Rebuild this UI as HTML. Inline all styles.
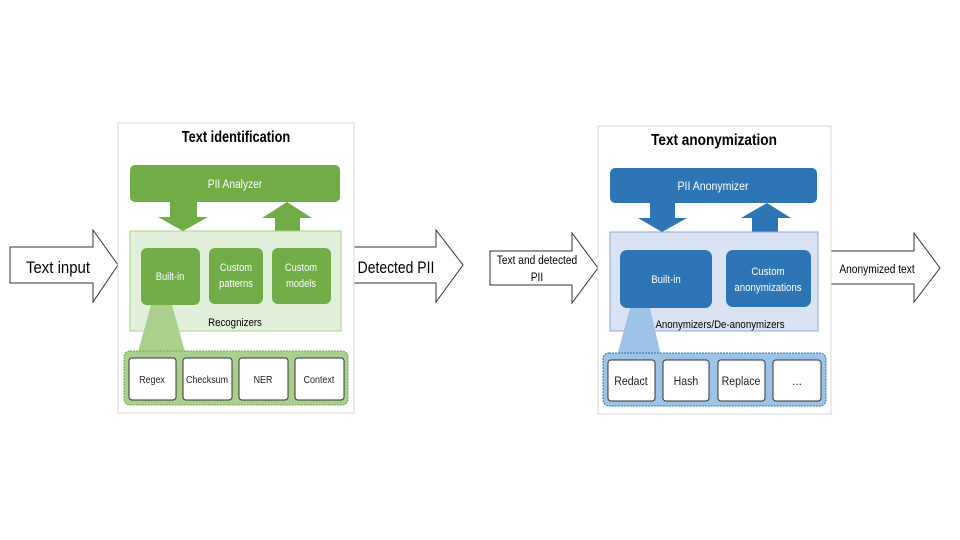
<!DOCTYPE html>
<html><head><meta charset="utf-8"><style>
html,body{margin:0;padding:0;background:#fff;width:960px;height:540px;overflow:hidden}
svg text{font-family:"Liberation Sans",sans-serif}
</style></head><body>
<svg width="960" height="540" viewBox="0 0 960 540" xmlns="http://www.w3.org/2000/svg">
<g fill="#fff" stroke="#333" stroke-width="1">
<polygon points="10,247 93,247 93,230 118,265 93,302 93,283 10,283"/>
<polygon points="353,247 436,247 436,230 463,265 436,302 436,283 353,283"/>
<polygon points="490,251 572,251 572,233 598,268 572,303 572,285 490,285"/>
<polygon points="831,251 914,251 914,233 940,268 914,302 914,284 831,284"/>
</g>
<g fill="#000" text-anchor="middle">
<text x="58" y="273" font-size="17" transform="translate(58,0) scale(0.88,1) translate(-58,0)">Text input</text>
<text x="396" y="273" font-size="17" transform="translate(396,0) scale(0.82,1) translate(-396,0)">Detected PII</text>
<text x="537" y="264" font-size="12" transform="translate(537,0) scale(0.85,1) translate(-537,0)">Text and detected</text>
<text x="537" y="281" font-size="12" transform="translate(537,0) scale(0.85,1) translate(-537,0)">PII</text>
<text x="877" y="273" font-size="12" transform="translate(877,0) scale(0.85,1) translate(-877,0)">Anonymized text</text>
</g>

<rect x="118" y="123" width="236" height="290" fill="#fff" stroke="#d9d9d9"/>
<text x="236" y="142" font-size="16" font-weight="bold" text-anchor="middle" transform="translate(236,0) scale(0.8,1) translate(-236,0)">Text identification</text>
<rect x="130" y="165" width="210" height="37" rx="5" fill="#70ad47"/>
<text x="235" y="188" font-size="12" fill="#fff" text-anchor="middle" transform="translate(235,0) scale(0.85,1) translate(-235,0)">PII Analyzer</text>
<polygon points="170,201 197,201 197,217 208,217 183,231 158,217 170,217" fill="#70ad47"/>
<polygon points="275,232 300,232 300,218 312,218 287,202 262,218 275,218" fill="#70ad47"/>
<rect x="130" y="231" width="211" height="100" fill="#e2efda" stroke="#a9d08e"/>
<rect x="141" y="248" width="59" height="57" rx="6" fill="#70ad47"/>
<rect x="209" y="248" width="54" height="56" rx="6" fill="#70ad47"/>
<rect x="272" y="248" width="59" height="56" rx="6" fill="#70ad47"/>
<g fill="#fff" font-size="11" text-anchor="middle">
<text x="170" y="280" transform="translate(170,0) scale(0.85,1) translate(-170,0)">Built-in</text>
<g transform="translate(236,0) scale(0.85,1) translate(-236,0)"><text x="236" y="271">Custom</text><text x="236" y="287">patterns</text></g>
<g transform="translate(301,0) scale(0.85,1) translate(-301,0)"><text x="301" y="271">Custom</text><text x="301" y="287">models</text></g>
</g>
<text x="235" y="326" font-size="11" text-anchor="middle" transform="translate(235,0) scale(0.88,1) translate(-235,0)">Recognizers</text>
<polygon points="151,305 172,305 185,352 138,352" fill="#a9d08e"/>
<rect x="124" y="351" width="224" height="54" rx="6" fill="#a9d08e" stroke="#70ad47" stroke-dasharray="2,1"/>
<g fill="#fff" stroke="#333" stroke-width="1">
<rect x="129" y="358" width="47" height="42" rx="3"/>
<rect x="183" y="358" width="49" height="42" rx="3"/>
<rect x="239" y="358" width="49" height="42" rx="3"/>
<rect x="295" y="358" width="49" height="42" rx="3"/>
</g>
<g fill="#222" font-size="10.5" text-anchor="middle">
<text x="152" y="383" transform="translate(152,0) scale(0.85,1) translate(-152,0)">Regex</text>
<text x="207" y="383" transform="translate(207,0) scale(0.85,1) translate(-207,0)">Checksum</text>
<text x="263" y="383" transform="translate(263,0) scale(0.85,1) translate(-263,0)">NER</text>
<text x="319" y="383" transform="translate(319,0) scale(0.85,1) translate(-319,0)">Context</text>
</g>

<rect x="598" y="126" width="233" height="288" fill="#fff" stroke="#d9d9d9"/>
<text x="714" y="145" font-size="16" font-weight="bold" text-anchor="middle" transform="translate(714,0) scale(0.85,1) translate(-714,0)">Text anonymization</text>
<rect x="610" y="168" width="207" height="35" rx="5" fill="#2e75b6"/>
<text x="713" y="190" font-size="12" fill="#fff" text-anchor="middle" transform="translate(713,0) scale(0.88,1) translate(-713,0)">PII Anonymizer</text>
<polygon points="650,202 675,202 675,218 687,218 662,232 638,218 650,218" fill="#2e75b6"/>
<polygon points="752,233 778,233 778,218 791,218 767,203 741,218 752,218" fill="#2e75b6"/>
<rect x="610" y="232" width="208" height="99" fill="#dae3f3" stroke="#8faadc"/>
<rect x="620" y="250" width="92" height="58" rx="7" fill="#2e75b6"/>
<rect x="726" y="250" width="85" height="57" rx="7" fill="#2e75b6"/>
<g fill="#fff" font-size="11" text-anchor="middle">
<text x="666" y="283" transform="translate(666,0) scale(0.88,1) translate(-666,0)">Built-in</text>
<g transform="translate(768,0) scale(0.88,1) translate(-768,0)"><text x="768" y="275">Custom</text><text x="768" y="291">anonymizations</text></g>
</g>
<text x="720" y="328" font-size="11" text-anchor="middle" transform="translate(720,0) scale(0.88,1) translate(-720,0)">Anonymizers/De-anonymizers</text>
<polygon points="630,308 650,308 661,356 617,356" fill="#9dc3e6"/>
<rect x="603" y="353" width="223" height="53" rx="6" fill="#9dc3e6" stroke="#2e75b6" stroke-dasharray="2,1"/>
<g fill="#fff" stroke="#333" stroke-width="1">
<rect x="608" y="360" width="47" height="41" rx="3"/>
<rect x="663" y="360" width="46" height="41" rx="3"/>
<rect x="718" y="360" width="47" height="41" rx="3"/>
<rect x="773" y="360" width="48" height="41" rx="3"/>
</g>
<g fill="#222" font-size="12" text-anchor="middle">
<text x="631" y="385" transform="translate(631,0) scale(0.88,1) translate(-631,0)">Redact</text>
<text x="686" y="385" transform="translate(686,0) scale(0.88,1) translate(-686,0)">Hash</text>
<text x="741" y="385" transform="translate(741,0) scale(0.88,1) translate(-741,0)">Replace</text>
<text x="797" y="385">...</text>
</g>
</svg>
</body></html>
